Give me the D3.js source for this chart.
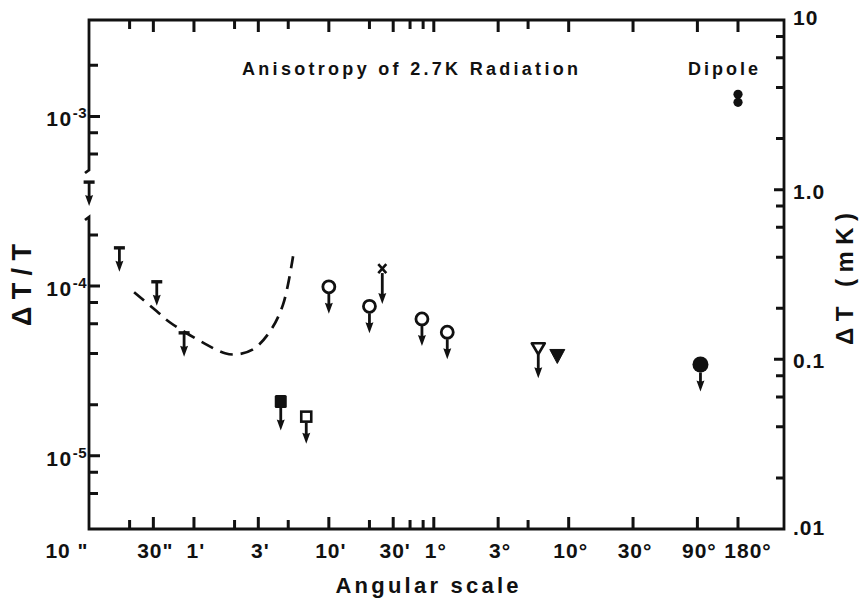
<!DOCTYPE html>
<html>
<head>
<meta charset="utf-8">
<script src="https://cdn.jsdelivr.net/npm/d3@7"></script>
<style>
  body { margin: 0; background: #fff; }
  text { font-family: "Liberation Sans", Arial, sans-serif; font-weight: bold; fill: #111; }
</style>
</head>
<body>
<div id="chart"></div>
<script>
// angular scale is kept in arcminutes
const tickAngles = [1/6, 0.5, 1, 3, 10, 30, 60, 180, 600, 1800, 5400, 10800];
const tickLabels = ['10 "', '30"', "1'", "3'", "10'", "30'", "1°", "3°", "10°", "30°", "90°", "180°"];
const minorAngles = [1/3, 2, 5, 20, 40, 50, 300];

const leftMajor = [1e-5, 1e-4, 1e-3];
const leftMajorExp = ['-5', '-4', '-3'];
const leftMinor = [6e-6, 8e-6, 2e-5, 4e-5, 6e-5, 8e-5, 2e-4, 4e-4, 6e-4, 8e-4, 2e-3];

const rightMajor = [0.01, 0.1, 1, 10];
const rightLabels = ['.01', '0.1', '1.0', '10'];
const rightMinor = [0.02, 0.04, 0.06, 0.08, 0.2, 0.4, 0.6, 0.8, 2, 4, 6, 8];

// upper limits (and one plain point)
const limAngle  = [0.167, 0.28, 0.53, 0.845, 4.4, 6.8, 10, 20, 24.9, 49, 75.5, 357, 494, 5690];
const limValue  = [4.1e-4, 1.68e-4, 1.06e-4, 5.3e-5, 2.09e-5, 1.70e-5, 9.9e-5, 7.6e-5, 1.26e-4, 6.4e-5, 5.35e-5, 4.3e-5, 3.9e-5, 3.45e-5];
const limSymbol = ['T', 'T', 'T', 'T', 'squareFilled', 'square', 'circle', 'circle', 'cross', 'circle', 'circle', 'triangle', 'triangleFilled', 'disc'];
const limArrow  = [true, true, true, true, true, true, true, true, true, true, true, true, false, true];

// dipole measurements
const dipoleAngle = [10800, 10800];
const dipoleValue = [1.35e-3, 1.21e-3];

// dashed theoretical curve
const curveAngle = [0.36, 0.53, 0.665, 1.15, 1.7, 2.08, 2.75, 3.67, 4.58, 5.43];
const curveValue = [9.2e-5, 7.1e-5, 6.1e-5, 4.67e-5, 4.02e-5, 3.96e-5, 4.24e-5, 5.42e-5, 7.8e-5, 1.5e-4];

const width = 860, height = 605;
const plot = { left: 89, right: 784, top: 20, bottom: 529 };
const gapTop = 170, gapBottom = 217;

const svg = d3.select('#chart').append('svg')
    .attr('width', width)
    .attr('height', height);

const x = d3.scaleLog().domain([1/6, 10800]).range([plot.left, 738]);
const y = d3.scaleLog().domain([3.7e-6, 3.7e-3]).range([plot.bottom, plot.top]);
const yR = d3.scaleLog().domain([0.01, 10]).range([plot.bottom, plot.top]);

// inward ticks, one path per set
function tickPath(d) {
    svg.append('path')
        .attr('d', d)
        .attr('fill', 'none')
        .attr('stroke', '#111')
        .attr('stroke-width', 3);
}

const major = tickAngles.slice(1);
tickPath(major.map(v => `M${x(v)},${plot.top}v12M${x(v)},${plot.bottom}v-12`).join(''));
tickPath(minorAngles.map(v => `M${x(v)},${plot.top}v9M${x(v)},${plot.bottom}v-9`).join(''));

const outsideGap = v => y(v) < gapTop || y(v) > gapBottom;
tickPath(leftMajor.map(v => `M${plot.left},${y(v)}h11`).join(''));
tickPath(leftMinor.filter(outsideGap).map(v => `M${plot.left},${y(v)}h9`).join(''));

tickPath(rightMajor.slice(1, 3).map(v => `M${plot.right},${yR(v)}h-10`).join(''));
tickPath(rightMinor.map(v => `M${plot.right},${yR(v)}h-8`).join(''));

// frame, with the break in the left axis
svg.append('path')
    .attr('d', `M${plot.left - 4},${gapTop + 3} L${plot.left},${gapTop} V${plot.top} H${plot.right} V${plot.bottom} H${plot.left} V${gapBottom} L${plot.left - 4},${gapBottom + 3}`)
    .attr('fill', 'none')
    .attr('stroke', '#111')
    .attr('stroke-width', 2.8);

// x tick labels
svg.append('g').selectAll('text')
    .data(tickAngles)
    .enter()
    .append('text')
    .attr('x', d => x(d))
    .attr('y', 558)
    .attr('dx', (d, i) => i === 0 ? -22 : (i === tickAngles.length - 1 ? 10 : 2))
    .attr('text-anchor', 'middle')
    .attr('font-size', 21)
    .attr('letter-spacing', 1)
    .text((d, i) => tickLabels[i]);

// left labels with superscript
const ll = svg.append('g').selectAll('text')
    .data(leftMajor)
    .enter()
    .append('text')
    .attr('x', 87)
    .attr('y', d => y(d) + 10)
    .attr('text-anchor', 'end')
    .attr('font-size', 21)
    .attr('letter-spacing', 1.5);
ll.append('tspan').text('10');
ll.append('tspan')
    .attr('dy', -8)
    .attr('font-size', 15)
    .attr('letter-spacing', 0.5)
    .text((d, i) => leftMajorExp[i]);

// right labels
svg.append('g').selectAll('text')
    .data(rightMajor)
    .enter()
    .append('text')
    .attr('x', 793)
    .attr('y', (d, i) => yR(d) + [6, 9, 9, 5][i])
    .attr('font-size', 21)
    .attr('letter-spacing', 1)
    .text((d, i) => rightLabels[i]);

// axis titles
svg.append('text')
    .attr('transform', 'translate(31,285) rotate(-90)')
    .attr('text-anchor', 'middle')
    .attr('font-size', 27)
    .attr('textLength', 82)
    .attr('lengthAdjust', 'spacing')
    .text('ΔT/T');

svg.append('text')
    .attr('transform', 'translate(853,279) rotate(-90)')
    .attr('text-anchor', 'middle')
    .attr('font-size', 24)
    .attr('textLength', 132)
    .attr('lengthAdjust', 'spacing')
    .text('ΔT (mK)');

svg.append('text')
    .attr('x', 427)
    .attr('y', 593)
    .attr('text-anchor', 'middle')
    .attr('font-size', 22)
    .attr('textLength', 183)
    .attr('lengthAdjust', 'spacing')
    .text('Angular scale');

svg.append('text')
    .attr('x', 242)
    .attr('y', 75)
    .attr('font-size', 18)
    .attr('textLength', 336)
    .attr('lengthAdjust', 'spacing')
    .text('Anisotropy of 2.7K Radiation');

svg.append('text')
    .attr('x', 688)
    .attr('y', 75)
    .attr('font-size', 18)
    .attr('textLength', 70)
    .attr('lengthAdjust', 'spacing')
    .text('Dipole');

// dashed curve
svg.append('path')
    .datum(curveAngle.map((a, i) => [a, curveValue[i]]))
    .attr('d', d3.line().x(d => x(d[0])).y(d => y(d[1])).curve(d3.curveCatmullRom))
    .attr('fill', 'none')
    .attr('stroke', '#111')
    .attr('stroke-width', 2.7)
    .attr('stroke-dasharray', '13 8');

// upper limit symbols
const stemLength = { T: 24, squareFilled: 29, square: 27, circle: 27, cross: 35, triangle: 30, triangleFilled: 0, disc: 27 };
const symbolBottom = { T: 0, squareFilled: 6, square: 6, circle: 7, cross: 4, triangle: 6, triangleFilled: 7, disc: 8 };

const pts = limAngle.map((a, i) => ({ a: a, v: limValue[i], s: limSymbol[i], arrow: limArrow[i] }));

const g = svg.append('g');
pts.forEach(p => {
    const pg = g.append('g').attr('transform', `translate(${x(p.a)},${y(p.v)})`);

    if (p.arrow) {
        const L = stemLength[p.s];
        pg.append('line')
            .attr('x1', 0).attr('y1', symbolBottom[p.s])
            .attr('x2', 0).attr('y2', L - 6)
            .attr('stroke', '#111')
            .attr('stroke-width', 2.8);
        pg.append('path')
            .attr('d', `M-4,${L - 11} Q0,${L - 9} 4,${L - 11} L0,${L} Z`)
            .attr('fill', '#111');
    }

    if (p.s === 'T') {
        pg.append('line')
            .attr('x1', -5.5).attr('x2', 5.5)
            .attr('y1', 0).attr('y2', 0)
            .attr('stroke', '#111')
            .attr('stroke-width', 3.4);
    } else if (p.s === 'circle') {
        pg.append('circle').attr('r', 6)
            .attr('fill', '#fff').attr('stroke', '#111').attr('stroke-width', 2.8);
    } else if (p.s === 'disc') {
        pg.append('circle').attr('r', 8).attr('fill', '#111');
    } else if (p.s === 'square') {
        pg.append('rect').attr('x', -5).attr('y', -5).attr('width', 10).attr('height', 10)
            .attr('fill', '#fff').attr('stroke', '#111').attr('stroke-width', 2.6);
    } else if (p.s === 'squareFilled') {
        pg.append('rect').attr('x', -6).attr('y', -6.5).attr('width', 12).attr('height', 13)
            .attr('rx', 1.5).attr('fill', '#111');
    } else if (p.s === 'triangle') {
        pg.append('path').attr('d', 'M-6.5,-5 L6.5,-5 L0,6 Z')
            .attr('fill', '#fff').attr('stroke', '#111').attr('stroke-width', 2.6)
            .attr('stroke-linejoin', 'round');
    } else if (p.s === 'triangleFilled') {
        pg.append('path').attr('d', 'M-7.5,-6 L7.5,-6 L0,8 Z')
            .attr('fill', '#111')
            .attr('stroke', '#111').attr('stroke-width', 1).attr('stroke-linejoin', 'round');
    } else if (p.s === 'cross') {
        pg.append('path').attr('d', 'M-4,-5 L4,4 M4,-5 L-4,4')
            .attr('stroke', '#111').attr('stroke-width', 2.6);
    }
});

// dipole
svg.append('g').selectAll('circle')
    .data(dipoleAngle.map((a, i) => [a, dipoleValue[i]]))
    .enter()
    .append('circle')
    .attr('cx', d => x(d[0]))
    .attr('cy', d => y(d[1]))
    .attr('r', 4.6)
    .attr('fill', '#111');
</script>
</body>
</html>
